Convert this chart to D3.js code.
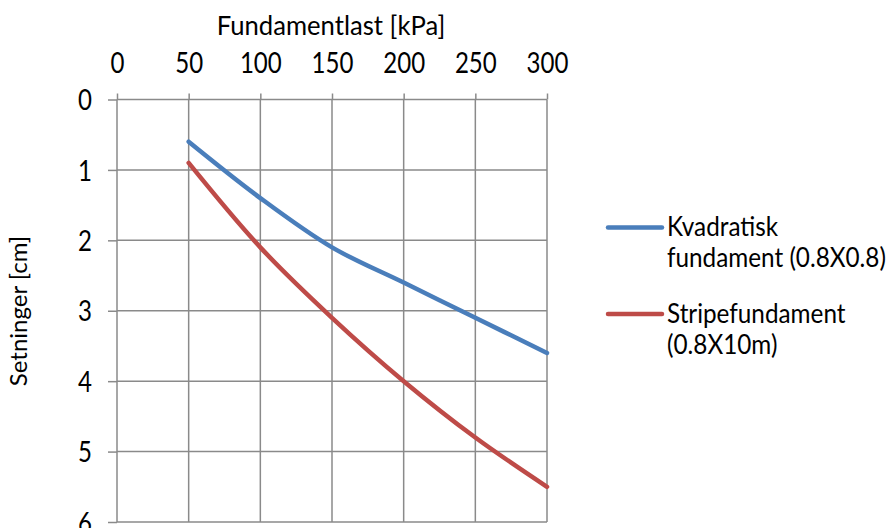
<!DOCTYPE html>
<html>
<head>
<meta charset="utf-8">
<script src="https://cdn.jsdelivr.net/npm/d3@7"></script>
<style>
  html, body { margin: 0; padding: 0; background: #fff; }
  svg { display: block; font-family: Lato, "Open Sans", sans-serif; }
</style>
</head>
<body>
<svg id="chart" width="890" height="528"></svg>
<script>
// Load (kPa) on the top axis, settlement (cm) downward on the left axis
const loads = [50, 100, 150, 200, 250, 300];
const squareFooting = [0.6, 1.4, 2.1, 2.6, 3.1, 3.6];
const stripFooting = [0.9, 2.1, 3.1, 4.0, 4.8, 5.5];
const xTicks = [0, 50, 100, 150, 200, 250, 300];
const yTicks = [0, 1, 2, 3, 4, 5, 6];
const seriesNames = [["Kvadratisk", "fundament (0.8X0.8)"], ["Stripefundament", "(0.8X10m)"]];
const seriesColors = ["#4A7EBB", "#BE4B48"];
const xTitle = "Fundamentlast [kPa]";
const yTitle = "Setninger [cm]";

const svg = d3.select("#chart");
const plotLeft = 117, plotRight = 547, plotTop = 99.5, plotBottom = 522;

const x = d3.scaleLinear().domain([0, 300]).range([plotLeft, plotRight]);
const y = d3.scaleLinear().domain([0, 6]).range([plotTop, plotBottom]);

const gridColor = "#8a8a8a";

// Narrow a text horizontally around its anchor point (tall, condensed lettering)
function narrow(sel, sx) {
  sel.each(function () {
    const t = d3.select(this);
    const tx = +t.attr("x") || 0, ty = +t.attr("y") || 0;
    t.attr("x", 0).attr("y", 0)
     .attr("transform", `translate(${tx},${ty}) scale(${sx},1)`);
  });
}

// Gridlines (they also form the plot frame)
const grid = svg.append("g").attr("stroke", gridColor).attr("stroke-width", 1.5);
grid.selectAll("line.v").data(xTicks).join("line").attr("class", "v")
  .attr("x1", d => x(d)).attr("x2", d => x(d))
  .attr("y1", plotTop).attr("y2", plotBottom);
grid.selectAll("line.h").data(yTicks).join("line").attr("class", "h")
  .attr("y1", d => y(d)).attr("y2", d => y(d))
  .attr("x1", plotLeft).attr("x2", plotRight);

// Axes
const xAxis = svg.append("g").attr("transform", `translate(0,${plotTop})`)
  .call(d3.axisTop(x).tickValues(xTicks).tickFormat(d3.format("d"))
    .tickSize(6).tickSizeOuter(0).tickPadding(21));
const yAxis = svg.append("g").attr("transform", `translate(${plotLeft},0)`)
  .call(d3.axisLeft(y).tickValues(yTicks).tickFormat(d3.format("d"))
    .tickSize(9).tickSizeOuter(0).tickPadding(16));
[xAxis, yAxis].forEach(a => {
  a.select(".domain").remove();
  a.selectAll(".tick line").attr("stroke", gridColor).attr("stroke-width", 1.5);
  a.selectAll(".tick text").attr("font-size", 28).attr("fill", "#000")
    .attr("font-family", "Lato, sans-serif");
});
yAxis.selectAll(".tick text").attr("dy", "0.36em");
narrow(xAxis.selectAll(".tick text"), 0.86);
narrow(yAxis.selectAll(".tick text"), 0.86);

// Axis titles
svg.append("text").attr("x", 331).attr("y", 35)
  .attr("text-anchor", "middle").attr("font-size", 27).text(xTitle)
  .call(narrow, 0.95);
svg.append("text").attr("transform", "translate(27,311) rotate(-90)")
  .attr("text-anchor", "middle").attr("font-size", 24).text(yTitle);

// Series lines
const line = d3.line()
  .x((d, i) => x(loads[i]))
  .y(d => y(d))
  .curve(d3.curveCatmullRom.alpha(0.5));

[squareFooting, stripFooting].forEach((vals, k) => {
  svg.append("path").datum(vals)
    .attr("d", line)
    .attr("fill", "none")
    .attr("stroke", seriesColors[k])
    .attr("stroke-width", 4.5)
    .attr("stroke-linecap", "round")
    .attr("stroke-linejoin", "round");
});

// Legend
const legendY = [227.5, 314];
seriesNames.forEach((lines, k) => {
  const g = svg.append("g").attr("transform", `translate(0,${legendY[k]})`);
  g.append("line").attr("x1", 608).attr("x2", 662).attr("y1", 0).attr("y2", 0)
    .attr("stroke", seriesColors[k]).attr("stroke-width", 4.5).attr("stroke-linecap", "round");
  lines.forEach((t, j) => {
    g.append("text").attr("x", 667).attr("y", 8.5 + j * 31)
      .attr("font-size", 27).attr("fill", "#000").text(t)
      .call(narrow, 0.9);
  });
});
</script>
</body>
</html>
